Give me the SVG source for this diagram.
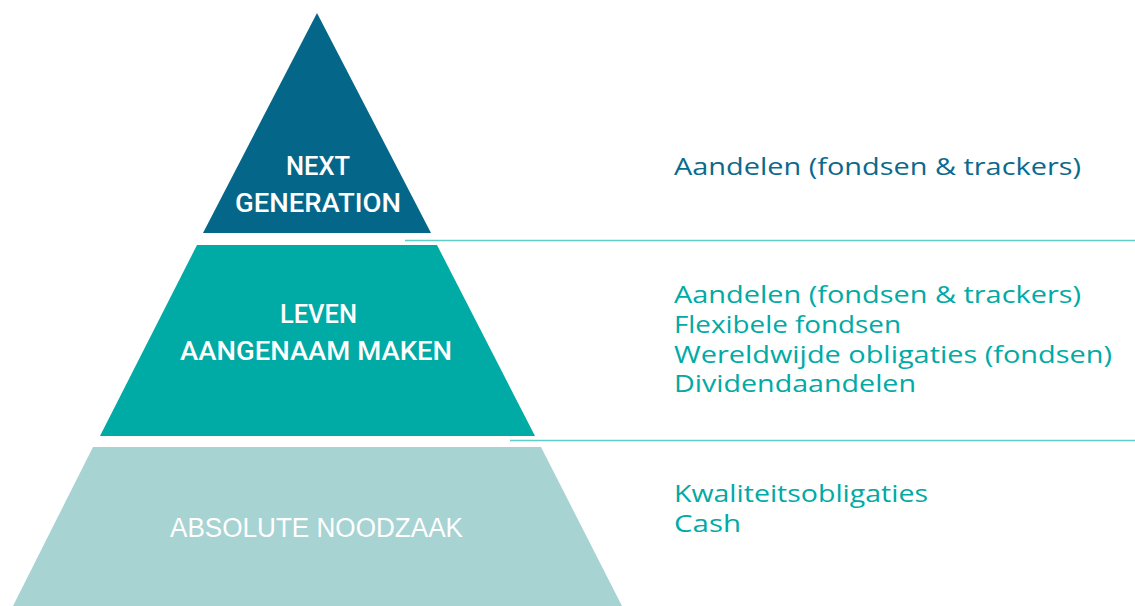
<svg xmlns="http://www.w3.org/2000/svg" width="1135" height="606" viewBox="0 0 1135 606">
<style>
.lbl{font-family:Roboto,"Open Sans","Liberation Sans",sans-serif;font-size:26px;font-weight:500;fill:#ffffff;text-anchor:start}
.lbl2{font-family:"Liberation Sans",sans-serif;font-size:27px;fill:#ffffff}
.rt{font-family:"Open Sans","Liberation Sans",sans-serif;font-size:24px}
.blue{fill:#0a6a8c}
.teal{fill:#00aaa5}
.sep{stroke:#5ecec7;stroke-width:1.5;fill:none}
</style>
<rect width="1135" height="606" fill="#ffffff"/>
<g id="connectors">
<line class="sep" x1="405" y1="240.5" x2="1135" y2="240.5"/>
<line class="sep" x1="510" y1="440.5" x2="1135" y2="440.5"/>
</g>
<g id="top">
<polygon points="317,13 431,233 203,233" fill="#04678a"/>
<text class="lbl" x="286" y="175" textLength="64" lengthAdjust="spacingAndGlyphs">NEXT</text>
<text class="lbl" x="235" y="212" textLength="166" lengthAdjust="spacingAndGlyphs">GENERATION</text>
</g>
<g id="middle">
<polygon points="197,245 437,245 535,436 100,436" fill="#00aaa5"/>
<text class="lbl" x="280" y="323" textLength="77" lengthAdjust="spacingAndGlyphs">LEVEN</text>
<text class="lbl" x="180" y="360" textLength="272" lengthAdjust="spacingAndGlyphs">AANGENAAM MAKEN</text>
</g>
<g id="bottom">
<polygon points="93,447 541,447 622,606 13,606" fill="#a7d3d3"/>
<text class="lbl2" x="170" y="537" textLength="293" lengthAdjust="spacingAndGlyphs">ABSOLUTE NOODZAAK</text>
</g>
<g id="text-top">
<text class="rt blue" x="674" y="175" textLength="407" lengthAdjust="spacingAndGlyphs">Aandelen (fondsen &amp; trackers)</text>
</g>
<g id="text-middle">
<text class="rt teal" x="674" y="303" textLength="407" lengthAdjust="spacingAndGlyphs">Aandelen (fondsen &amp; trackers)</text>
<text class="rt teal" x="674" y="333" textLength="227" lengthAdjust="spacingAndGlyphs">Flexibele fondsen</text>
<text class="rt teal" x="674" y="363" textLength="438" lengthAdjust="spacingAndGlyphs">Wereldwijde obligaties (fondsen)</text>
<text class="rt teal" x="674" y="392" textLength="242" lengthAdjust="spacingAndGlyphs">Dividendaandelen</text>
</g>
<g id="text-bottom">
<text class="rt teal" x="674" y="502" textLength="254" lengthAdjust="spacingAndGlyphs">Kwaliteitsobligaties</text>
<text class="rt teal" x="674" y="532" textLength="67" lengthAdjust="spacingAndGlyphs">Cash</text>
</g>
</svg>
